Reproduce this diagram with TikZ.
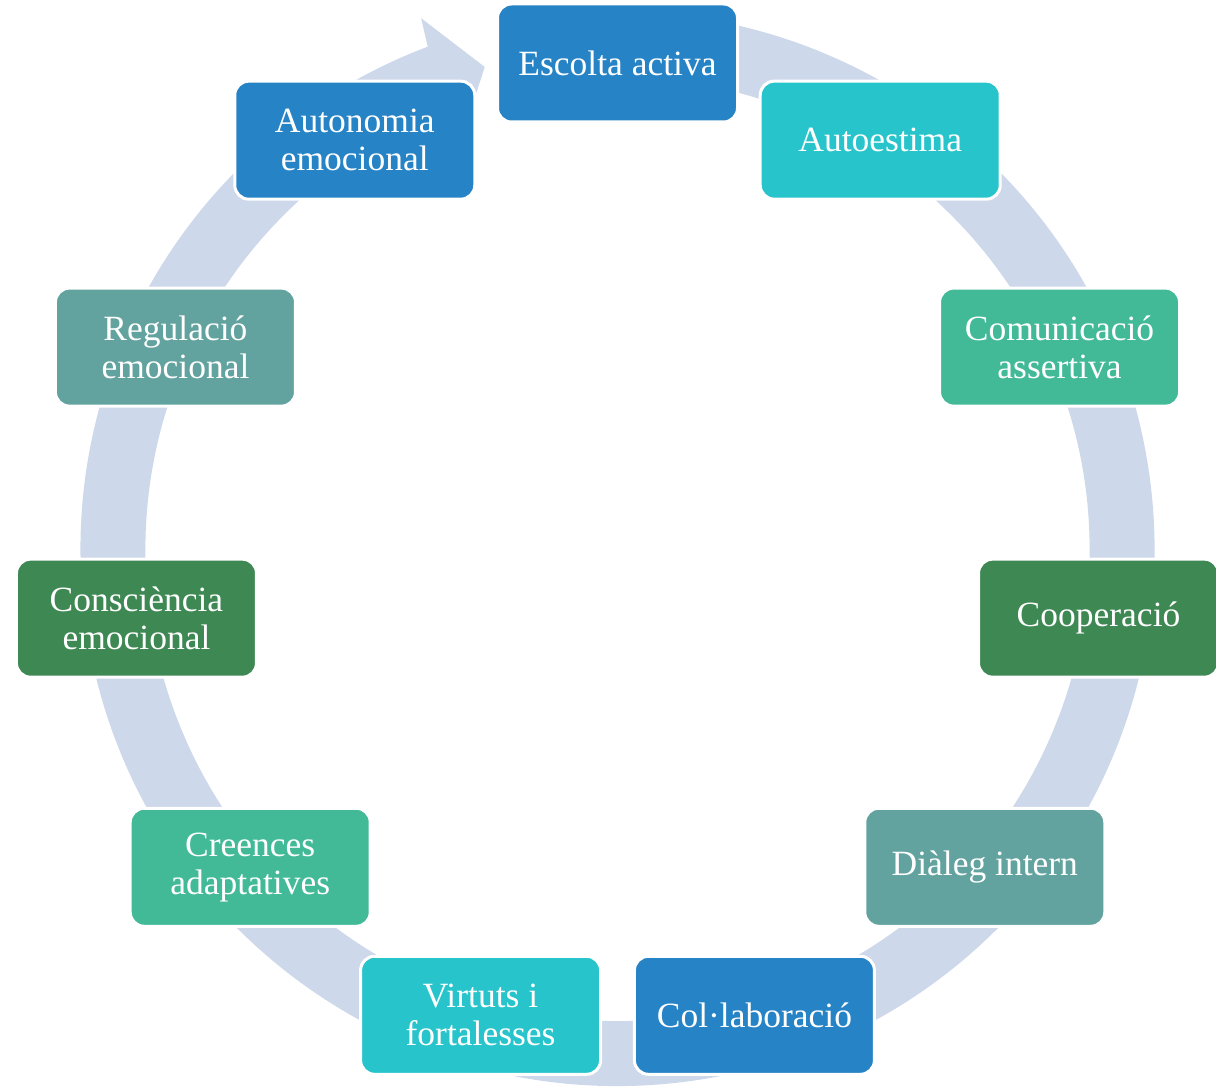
\documentclass[tikz,border=0pt]{standalone}
\usepackage{fontspec}
\setmainfont{Liberation Serif}
\usetikzlibrary{calc}
\definecolor{ringcol}{HTML}{CDD8EA}
\definecolor{acA}{HTML}{2683C6}
\definecolor{acB}{HTML}{27C4CB}
\definecolor{acC}{HTML}{42BA97}
\definecolor{acD}{HTML}{3E8853}
\definecolor{acE}{HTML}{62A39F}
\tikzset{
  stage/.style={rectangle, rounded corners=14pt, draw=white, line width=3pt,
    minimum width=240pt, minimum height=118pt, inner sep=0pt, text=white,
    align=center, font=\fontsize{35.5}{38}\selectfont},
}
\begin{document}
\begin{tikzpicture}[x=1pt,y=1pt]
\useasboundingbox (0,0) rectangle (1216,-1089);
\coordinate (c) at (617.5,-549);
% cycle ring with its arrowhead
\fill[ringcol] ($(c)+(100:537pt)$) arc[start angle=100,end angle=-249.3,radius=537pt]
  -- ($(c)+(-249.7:566pt)$) -- ($(c)+(-254.6:500pt)$) -- ($(c)+(-249.7:444pt)$)
  -- ($(c)+(-249.3:472pt)$) arc[start angle=-249.3,end angle=100,radius=472pt] -- cycle;
% stages
\node[stage, fill=acA] (n0)  at ($(c)+(90:486pt)$) {Escolta activa};
\node[stage, fill=acB] (n1)  at ($(c)+({90-1*360/11}:486pt)$) {Autoestima};
\node[stage, fill=acC] (n2)  at ($(c)+({90-2*360/11}:486pt)$) {Comunicació\\assertiva};
\node[stage, fill=acD] (n3)  at ($(c)+({90-3*360/11}:486pt)$) {Cooperació};
\node[stage, fill=acE] (n4)  at ($(c)+({90-4*360/11}:486pt)$) {Diàleg intern};
\node[stage, fill=acA] (n5)  at ($(c)+({90-5*360/11}:486pt)$) {Col·laboració};
\node[stage, fill=acB] (n6)  at ($(c)+({90-6*360/11}:486pt)$) {Virtuts i\\fortalesses};
\node[stage, fill=acC] (n7)  at ($(c)+({90-7*360/11}:486pt)$) {Creences\\adaptatives};
\node[stage, fill=acD] (n8)  at ($(c)+({90-8*360/11}:486pt)$) {Consciència\\emocional};
\node[stage, fill=acE] (n9)  at ($(c)+({90-9*360/11}:486pt)$) {Regulació\\emocional};
\node[stage, fill=acA] (n10) at ($(c)+({90-10*360/11}:486pt)$) {Autonomia\\emocional};
\end{tikzpicture}
\end{document}
